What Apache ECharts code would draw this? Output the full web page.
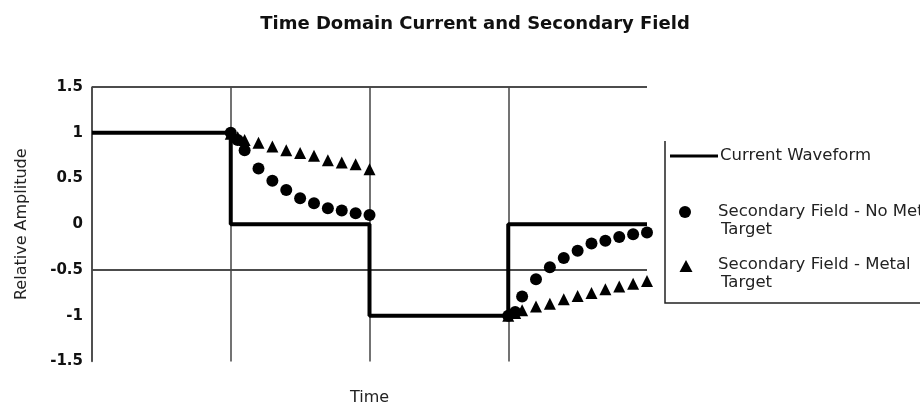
<!DOCTYPE html>
<html>
<head>
<meta charset="utf-8">
<script src="https://cdn.jsdelivr.net/npm/echarts@6/dist/echarts.min.js"></script>
<style>
html,body{margin:0;padding:0;background:#fff;}
#chart{width:920px;height:405px;}
</style>
</head>
<body>
<div id="chart"></div>
<script>
// ---- data ----
var titleText = 'Time Domain Current and Secondary Field';
var xName = 'Time';
var yName = 'Relative Amplitude';
var yTickLabels = ['-1.5', '-1', '-0.5', '0', '0.5', '1', '1.5'];
var seriesNames = ['Current Waveform', 'Secondary Field - No Metal\nTarget', 'Secondary Field - Metal\nTarget'];

var currentX = [0, 1, 1, 2, 2, 3, 3, 4];
var currentY = [1, 1, 0, 0, -1, -1, 0, 0];

var noMetalX = [1.0, 1.05, 1.1, 1.2, 1.3, 1.4, 1.5, 1.6, 1.7, 1.8, 1.9, 2.0,
                3.0, 3.05, 3.1, 3.2, 3.3, 3.4, 3.5, 3.6, 3.7, 3.8, 3.9, 4.0];
var noMetalY = [1.0, 0.92, 0.81, 0.61, 0.475, 0.375, 0.285, 0.23, 0.175, 0.15, 0.12, 0.10,
                -1.0, -0.96, -0.79, -0.60, -0.47, -0.37, -0.29, -0.21, -0.18, -0.14, -0.11, -0.09];

var metalX = [1.0, 1.05, 1.1, 1.2, 1.3, 1.4, 1.5, 1.6, 1.7, 1.8, 1.9, 2.0,
              3.0, 3.05, 3.1, 3.2, 3.3, 3.4, 3.5, 3.6, 3.7, 3.8, 3.9, 4.0];
var metalY = [0.99, 0.95, 0.92, 0.89, 0.85, 0.81, 0.78, 0.75, 0.70, 0.675, 0.655, 0.60,
              -1.0, -0.97, -0.94, -0.90, -0.87, -0.82, -0.785, -0.75, -0.71, -0.68, -0.65, -0.62];

function pairs(xs, ys) { return xs.map(function (x, i) { return [x, ys[i]]; }); }

// ---- chart ----
var chart = echarts.init(document.getElementById('chart'), null, {renderer: 'canvas'});

var titleFont = 'bold 18px "DejaVu Sans"';
var ctx = document.createElement('canvas').getContext('2d');
ctx.font = titleFont;
var titleW = ctx.measureText(titleText).width;

var legFont = '16.5px "DejaVu Sans"';
var option = {
  backgroundColor: '#ffffff',
  animation: false,
  title: {
    text: titleText,
    left: 475 - titleW / 2,
    top: 15,
    padding: 0,
    textStyle: {fontFamily: 'DejaVu Sans', fontWeight: 'bold', fontSize: 18, color: '#111'}
  },
  grid: {left: 92, right: 273, top: 87, bottom: 43.5, containLabel: false, outerBoundsMode: 'none'},
  xAxis: {
    type: 'value', min: 0, max: 4, interval: 1,
    name: xName, nameLocation: 'middle', nameGap: 28,
    nameTextStyle: {fontFamily: 'DejaVu Sans', fontSize: 16, color: '#222', verticalAlign: 'top'},
    axisLine: {show: false},
    axisTick: {show: false},
    axisLabel: {show: false},
    splitLine: {show: true, lineStyle: {color: ['#444', '#444', '#444', '#444', 'rgba(0,0,0,0)'], width: 1.5}}
  },
  yAxis: {
    type: 'value', min: -1.5, max: 1.5, interval: 0.5,
    name: yName, nameLocation: 'middle', nameGap: 62, nameRotate: 90,
    nameTextStyle: {fontFamily: 'DejaVu Sans', fontSize: 16, color: '#222'},
    axisLine: {show: true, lineStyle: {color: '#444', width: 1.5}},
    axisTick: {show: false},
    axisLabel: {
      margin: 9, fontFamily: 'DejaVu Sans', fontWeight: 'bold', fontSize: 15, color: '#111',
      formatter: function (v) {
        var i = Math.round((v + 1.5) / 0.5);
        return yTickLabels[i];
      }
    },
    splitLine: {show: true, lineStyle: {color: ['rgba(0,0,0,0)', 'rgba(0,0,0,0)', '#111', 'rgba(0,0,0,0)'], width: 1.5}}
  },
  series: [
    {
      name: seriesNames[0], type: 'line', data: pairs(currentX, currentY),
      showSymbol: false, symbol: 'none',
      lineStyle: {color: '#000', width: 4}, z: 3
    },
    {
      name: seriesNames[1], type: 'scatter', data: pairs(noMetalX, noMetalY),
      symbol: 'circle', symbolSize: 12, clip: false,
      itemStyle: {color: '#000', opacity: 1}, z: 4
    },
    {
      name: seriesNames[2], type: 'scatter', data: pairs(metalX, metalY),
      symbol: 'triangle', symbolSize: 12, clip: false,
      itemStyle: {color: '#000', opacity: 1}, z: 4
    }
  ],
  graphic: [
    // legend frame (left + bottom edges)
    {type: 'polyline', shape: {points: [[665, 141], [665, 303], [920, 303]]}, style: {stroke: '#222', lineWidth: 1.5, fill: null}},
    // legend icons
    {type: 'line', shape: {x1: 670, y1: 156, x2: 718, y2: 156}, style: {stroke: '#000', lineWidth: 3}},
    {type: 'circle', shape: {cx: 685, cy: 212, r: 6}, style: {fill: '#000'}},
    {type: 'polygon', shape: {points: [[686, 260], [692.5, 272], [679.5, 272]]}, style: {fill: '#000'}},
    // legend texts
    {type: 'text', x: 720, y: 156, style: {text: 'Current Waveform', font: legFont, fill: '#222', verticalAlign: 'middle'}},
    {type: 'text', x: 718, y: 212, style: {text: 'Secondary Field - No Metal', font: legFont, fill: '#222', verticalAlign: 'middle'}},
    {type: 'text', x: 721, y: 230, style: {text: 'Target', font: legFont, fill: '#222', verticalAlign: 'middle'}},
    {type: 'text', x: 718, y: 265, style: {text: 'Secondary Field - Metal', font: legFont, fill: '#222', verticalAlign: 'middle'}},
    {type: 'text', x: 721, y: 283, style: {text: 'Target', font: legFont, fill: '#222', verticalAlign: 'middle'}}
  ]
};
chart.setOption(option);
</script>
</body>
</html>
